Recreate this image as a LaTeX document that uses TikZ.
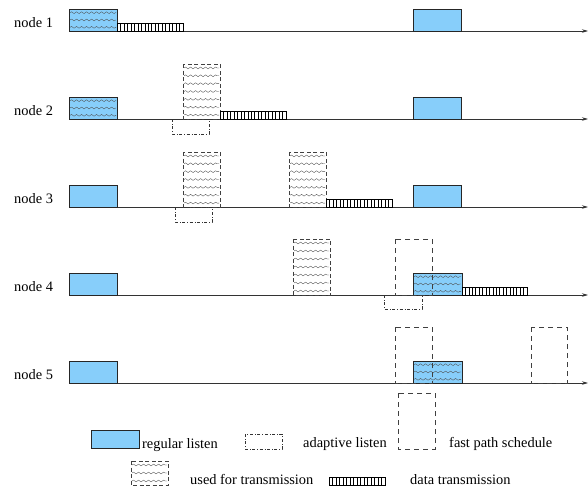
\documentclass[tikz,border=0pt]{standalone}
\usepackage{fontspec}
\setmainfont{Liberation Serif}
\usetikzlibrary{arrows.meta,decorations.pathmorphing}
\definecolor{listenblue}{RGB}{135,206,250}

\begin{document}
\begin{tikzpicture}[x=1pt,y=-1pt,>={Stealth[length=6pt,width=3.5pt]},
	listen/.style={draw=black!85,fill=listenblue,line width=0.6pt},
	adaptive/.style={draw=black!80,dash dot,line width=0.5pt},
	fastpath/.style={draw=black!75,dash pattern=on 5pt off 4pt,line width=0.6pt},
	sendbox/.style={draw=black!75,dash pattern=on 4pt off 2.5pt,line width=0.5pt},
	wave/.style={black!70,line width=0.35pt,decorate,
		decoration={snake,segment length=5pt,amplitude=0.9pt}},
	datatx/.style={draw=black,line width=0.5pt}]
%				\draw[step=10,help lines] (0,0) grid (588,491);
\fontsize{14.4}{17}\selectfont
\useasboundingbox (0,0) rectangle (588,491);
% draw axis
				\foreach \y/\n in {31/1,119/2,207/3,295/4,383/5}{
				\draw[->,black!80,line width=0.7pt] (69,\y) -- (588,\y);
				\node[anchor=base west,inner sep=0pt] (node\n) at (14,\y-4) {node \n};
				}
% regular listen
				\foreach \y in {31,119,207}
				\draw [listen] (69,\y-22) rectangle (117,\y) (413,\y-22) rectangle (461,\y);
				\foreach \y in {295,383}
				\draw [listen] (69,\y-22) rectangle (117,\y) (413,\y-22) rectangle (462,\y);
				\draw [listen] (91,430) rectangle (139,448);
% used for transmission (waves)
				\foreach \a/\b/\t/\h/\r in {69/117/9/22/3, 69/117/97/22/3,
				183/220/64/55/7, 183/220/152/55/7, 289/326/152/55/7, 293/330/239/56/7,
				413/462/273/22/3, 413/462/361/22/3, 131/168/461/24/3}
				\foreach \i in {1,...,\r}
				\draw [wave] (\a+1,\t+\i*\h/\r-0.5*\h/\r) -- (\b-1,\t+\i*\h/\r-0.5*\h/\r);
				\foreach \a/\b/\t/\h in {183/220/64/55, 183/220/152/55, 289/326/152/55,
				293/330/239/56, 131/168/461/24}
				\draw [sendbox] (\a,\t) rectangle (\b,\t+\h);
% data transmission
				\foreach \a/\b/\y in {117/183/31, 220/286/119, 326/392/207, 462/527/295,
				329/385/485}{
				\draw [datatx] (\a,\y-8) rectangle (\b,\y);
				\pgfmathtruncatemacro\m{(\b-\a)/3.3}
				\foreach \i in {1,...,\m}
				\draw [datatx] (\a+\i*\b/\m-\i*\a/\m,\y-8) -- ++(0,8);
				}
% adaptive listen
				\draw [adaptive] (172,119) rectangle (209,134);
				\draw [adaptive] (175,207) rectangle (212,222);
				\draw [adaptive] (384,295) rectangle (422,309);
				\draw [adaptive] (245,434) rectangle (282,449);
% fast path schedule
				\draw [fastpath] (395,239) rectangle (432,295);
				\draw [fastpath] (395,327) rectangle (432,383);
				\draw [fastpath] (531,327) rectangle (567,383);
				\draw [fastpath] (398,393) rectangle (435,449);
% legend
				\node[anchor=base west,inner sep=0pt] (lregular) at (142,448) {regular listen};
				\node[anchor=base west,inner sep=0pt] (ladaptive) at (303,447) {adaptive listen};
				\node[anchor=base west,inner sep=0pt] (lfast) at (449,447) {fast path schedule};
				\node[anchor=base west,inner sep=0pt] (lused) at (190,484) {used for transmission};
				\node[anchor=base west,inner sep=0pt] (ldata) at (410,484) {data transmission};
\end{tikzpicture}
\end{document}
